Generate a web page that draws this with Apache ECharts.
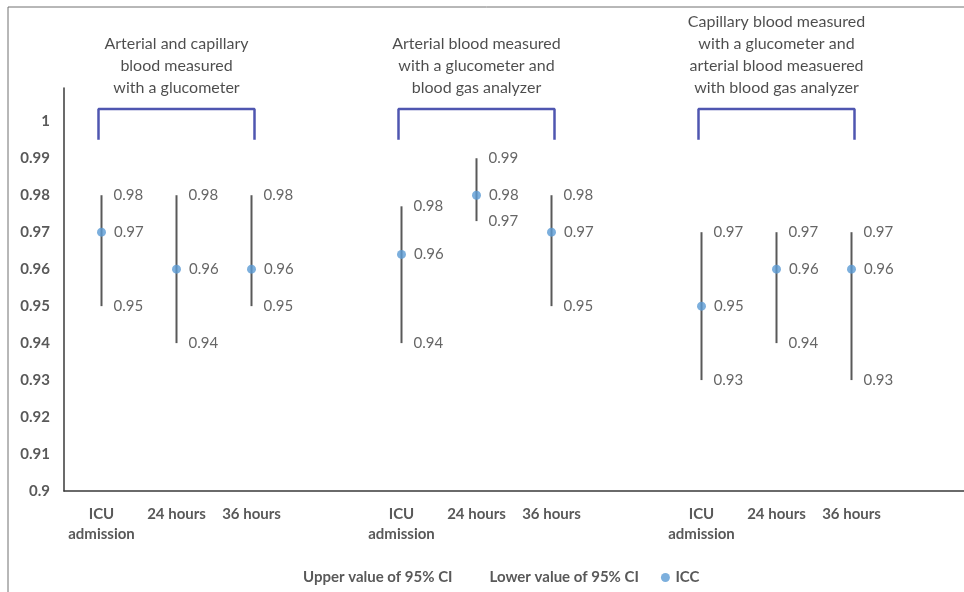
<!DOCTYPE html>
<html>
<head>
<meta charset="utf-8">
<script src="https://cdn.jsdelivr.net/npm/echarts@6/dist/echarts.min.js"></script>
<style>html,body{margin:0;padding:0;background:#fff}#c{width:964px;height:592px}</style>
</head>
<body>
<div id="c"></div>
<script>
// ---- data ----
const categories = ['ICU\nadmission','24 hours','36 hours','',
                    'ICU\nadmission','24 hours','36 hours','',
                    'ICU\nadmission','24 hours','36 hours',''];
const upperCI = [0.98, 0.98, 0.98, '-', 0.977, 0.99, 0.98, '-', 0.97, 0.97, 0.97, '-'];
const iccValues = [0.97, 0.96, 0.96, '-', 0.964, 0.98, 0.97, '-', 0.95, 0.96, 0.96, '-'];
const lowerCI = [0.95, 0.94, 0.95, '-', 0.94, 0.973, 0.95, '-', 0.93, 0.94, 0.93, '-'];
const groupTitles = [
  'Arterial and capillary\nblood measured\nwith a glucometer',
  'Arterial blood measured\nwith a glucometer and\nblood gas analyzer',
  'Capillary blood measured\nwith a glucometer and\narterial blood measuered\nwith blood gas analyzer'
];
const groupSpans = [[0, 2], [4, 6], [8, 10]];
const bracketTop = 1.0033, bracketBottom = 0.995;
const yTicksMax = 1.0;

// ---- build ----
const FONT = 'Lato';
const errData = [];
categories.forEach((c, i) => {
  if (upperCI[i] !== '-') errData.push([i, lowerCI[i], upperCI[i]]);
});
const bracketSeries = groupSpans.map(([a, b]) => ({
  type: 'line', xAxisIndex: 1, silent: true, symbol: 'none',
  lineStyle: { color: '#4F56B0', width: 2.5 },
  data: [[a - 0.04, bracketBottom], [a - 0.04, bracketTop], [b + 0.04, bracketTop], [b + 0.04, bracketBottom]],
  z: 1
}));
const titleSeries = {
  type: 'scatter', xAxisIndex: 1, symbolSize: 0, silent: true,
  data: groupSpans.map(([a, b], i) => ({
    value: [(a + b) / 2, bracketTop],
    label: { show: true, position: 'top', distance: 10, formatter: groupTitles[i],
      fontFamily: FONT, fontSize: 16, lineHeight: 22, color: '#1f1f1f', align: 'center' }
  }))
};
const valLabel = (dist) => ({
  show: true, position: 'right', distance: dist, fontFamily: FONT, fontSize: 15, color: '#404040',
  formatter: p => Number(p.value).toFixed(2)
});

const chart = echarts.init(document.getElementById('c'), null, { renderer: 'canvas' });
chart.setOption({
  animation: false,
  grid: { left: 64, right: 0, top: 88, bottom: 101 },
  graphic: [{ type: 'rect', shape: { x: 8, y: 7, width: 1000, height: 1000 },
    style: { fill: 'none', stroke: '#707070', lineWidth: 1 }, silent: true, z: -10 }],
  legend: {
    bottom: 2, left: 283, padding: 5, itemGap: 22, itemWidth: 10, itemHeight: 9,
    textStyle: { fontFamily: FONT, fontSize: 15, fontWeight: 'bold', color: '#595959' },
    data: [
      { name: 'Upper value of 95% CI', icon: 'none' },
      { name: 'Lower value of 95% CI', icon: 'none' },
      { name: 'ICC', icon: 'circle' }
    ]
  },
  xAxis: [{
    type: 'category', data: categories, boundaryGap: true,
    axisLine: { lineStyle: { color: '#3a3a3a', width: 1.5 } },
    axisTick: { show: false },
    axisLabel: { interval: 0, margin: 13, fontFamily: FONT, fontSize: 15, fontWeight: 'bold',
      color: '#595959', lineHeight: 20 }
  }, {
    type: 'value', min: -0.5, max: categories.length - 0.5, show: false
  }],
  yAxis: {
    type: 'value', min: 0.9, max: 1.009, interval: 0.01,
    splitLine: { show: false },
    axisLine: { show: true, onZero: false, lineStyle: { color: '#3a3a3a', width: 1.5 } },
    axisTick: { show: false },
    axisLabel: { margin: 14, fontFamily: FONT, fontSize: 15, fontWeight: 'bold', color: '#595959',
      formatter: v => v > yTicksMax + 1e-9 ? '' : String(Math.round(v * 100) / 100) }
  },
  series: [
    ...bracketSeries,
    titleSeries,
    {
      type: 'custom', name: 'CI', silent: true,
      renderItem: (params, api) => {
        const p1 = api.coord([api.value(0), api.value(1)]);
        const p2 = api.coord([api.value(0), api.value(2)]);
        return { type: 'line', shape: { x1: p1[0], y1: p1[1], x2: p2[0], y2: p2[1] },
          style: { stroke: '#595959', lineWidth: 2 } };
      },
      encode: { x: 0, y: [1, 2] },
      data: errData, z: 2
    },
    { type: 'scatter', name: 'Upper value of 95% CI', symbolSize: 0, data: upperCI, label: valLabel(12),
      itemStyle: { color: 'rgba(0,0,0,0)' } },
    { type: 'scatter', name: 'Lower value of 95% CI', symbolSize: 0, data: lowerCI, label: valLabel(12),
      itemStyle: { color: 'rgba(0,0,0,0)' } },
    { type: 'scatter', name: 'ICC', symbol: 'circle', symbolSize: 9, data: iccValues,
      itemStyle: { color: '#5B9BD5' }, label: valLabel(8), z: 5 }
  ]
});
</script>
</body>
</html>
